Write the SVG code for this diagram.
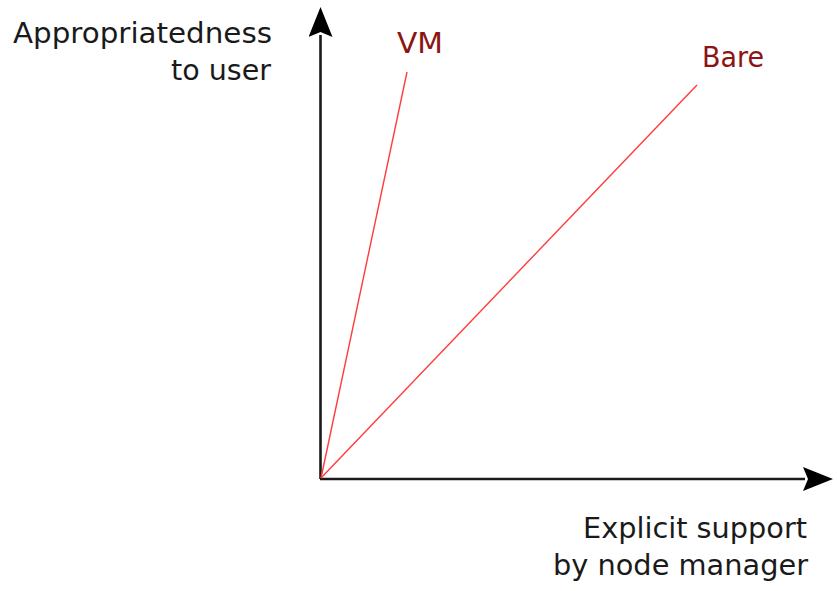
<svg xmlns="http://www.w3.org/2000/svg" width="837" height="591" viewBox="0 0 837 591">
  <style>
    .axis { stroke: #1a1a1a; stroke-width: 2.6; fill: none; }
    .curve { stroke: #ff3b3b; stroke-width: 1.4; fill: none; }
    .label { font-family: "DejaVu Sans", sans-serif; font-size: 28.5px; fill: #1a1a1a; }
    .series { font-family: "DejaVu Sans", sans-serif; font-size: 28px; fill: #8b1414; }
  </style>
  <defs>
    <marker id="arrow" viewBox="0 0 30 24" refX="2" refY="12" markerWidth="30" markerHeight="24" markerUnits="userSpaceOnUse" orient="auto">
      <path d="M0,0 L30,12 L0,24 L5,12 Z" fill="#000"/>
    </marker>
  </defs>

  <g id="connectors">
    <line class="axis" x1="320.5" y1="479" x2="320.5" y2="35" marker-end="url(#arrow)"/>
    <line class="axis" x1="320" y1="479" x2="805" y2="479" marker-end="url(#arrow)"/>
    <line class="curve" x1="321" y1="478" x2="407" y2="72"/>
    <line class="curve" x1="321" y1="478" x2="697" y2="85"/>
  </g>

  <g id="y-axis-label">
    <text class="label" x="13" y="43" textLength="259" lengthAdjust="spacingAndGlyphs">Appropriatedness</text>
    <text class="label" x="171" y="80" textLength="100" lengthAdjust="spacingAndGlyphs">to user</text>
  </g>
  <g id="x-axis-label">
    <text class="label" x="583" y="538" textLength="224" lengthAdjust="spacingAndGlyphs">Explicit support</text>
    <text class="label" x="553" y="575" textLength="255" lengthAdjust="spacingAndGlyphs">by node manager</text>
  </g>
  <g id="vm">
    <text class="series" x="397" y="53" textLength="46" lengthAdjust="spacingAndGlyphs">VM</text>
  </g>
  <g id="bare">
    <text class="series" x="702" y="67" textLength="62" lengthAdjust="spacingAndGlyphs">Bare</text>
  </g>
</svg>
